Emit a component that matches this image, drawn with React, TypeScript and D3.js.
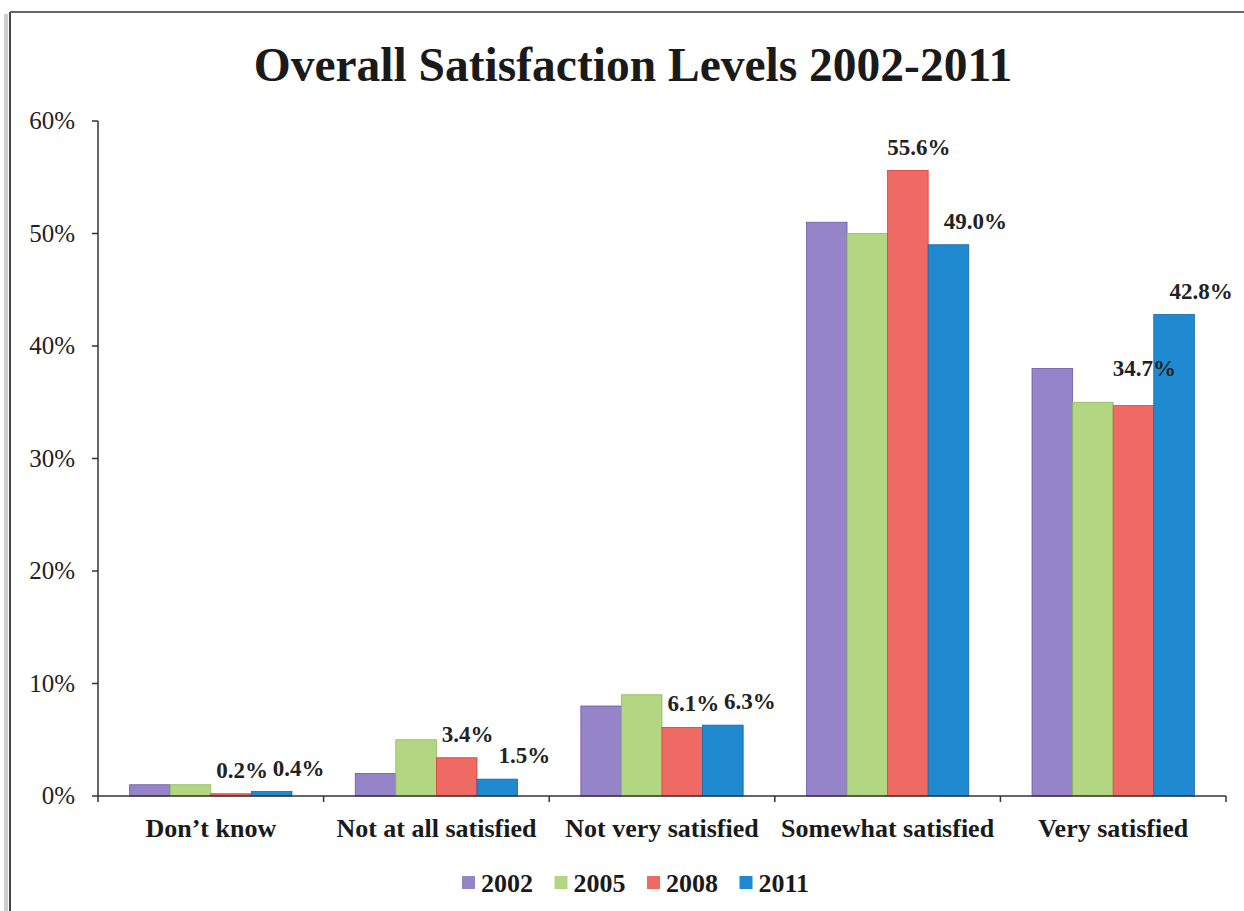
import React, { useEffect } from "react";
import * as d3 from "d3";

const categories = ["Don\u2019t know", "Not at all satisfied", "Not very satisfied", "Somewhat satisfied", "Very satisfied"];
const years = ["2002", "2005", "2008", "2011"];
const values2002 = [1.0, 2.0, 8.0, 51.0, 38.0];
const values2005 = [1.0, 5.0, 9.0, 50.0, 35.0];
const values2008 = [0.2, 3.4, 6.1, 55.6, 34.7];
const values2011 = [0.4, 1.5, 6.3, 49.0, 42.8];
const yTicks = [0, 10, 20, 30, 40, 50, 60];
const labeledYears = ["2008", "2011"];

const colors = ["#9584c8", "#b3d682", "#f06a64", "#1f8ad0"];
const strokes = ["#6a58a6", "#8fb85a", "#d8403c", "#1766a8"];
// label nudges (layout): horizontal offset per series, extra lift for specific labels
const labelDx: Record<string, number> = { "2008": 11, "2011": 27 };
const labelExtraLift: Record<string, number[]> = { "2008": [0, 0, 0, 0, 14], "2011": [0, 0, 0, 0, 0] };

const series = [values2002, values2005, values2008, values2011];

export default function App() {
  useEffect(() => {
    document.body.style.margin = "0";
    document.body.style.overflow = "hidden";
    document.documentElement.style.overflow = "hidden";
  }, []);
  const W = 1244, H = 911;
  const left = 98, right = 1226, top = 121, bottom = 796;
  const x0 = d3.scaleBand<string>().domain(categories).range([left, right]).padding(0);
  const x1 = d3.scaleBand<string>().domain(years).range([0, x0.bandwidth()]).paddingInner(0).paddingOuter(0.78);
  const y = d3.scaleLinear().domain([0, 60]).range([bottom, top]);
  const serif = "'Liberation Serif', 'Times New Roman', serif";

  return (
    <svg width={W} height={H} style={{ position: "absolute", left: 0, top: 0, background: "#fff", display: "block" }}>
      <rect x={0} y={0} width={W} height={H} fill="#fff" />
      {/* frame */}
      <line x1={6} y1={14} x2={6} y2={H} stroke="#cfcfcf" strokeWidth={4} />
      <line x1={10} y1={12} x2={10} y2={H} stroke="#444" strokeWidth={2} />
      <line x1={10} y1={12} x2={W} y2={12} stroke="#666" strokeWidth={2} />
      <text x={633} y={81} textAnchor="middle" fontFamily={serif} fontWeight="bold" fontSize={47.5} fill="#1a1a1a">
        Overall Satisfaction Levels 2002-2011
      </text>
      {/* y axis */}
      <line x1={left} y1={top} x2={left} y2={bottom + 6} stroke="#333" strokeWidth={1.5} />
      {yTicks.map((t) => (
        <g key={t}>
          <line x1={left - 6} x2={left} y1={y(t)} y2={y(t)} stroke="#333" strokeWidth={1.5} />
          <text x={75} y={y(t) + 8} textAnchor="end" fontFamily={serif} fontSize={25} fill="#222">
            {t}%
          </text>
        </g>
      ))}
      {/* bars */}
      {categories.map((c, ci) => (
        <g key={c} transform={`translate(${x0(c)},0)`}>
          {years.map((yr, si) => {
            const v = series[si][ci];
            return (
              <rect
                key={yr}
                x={x1(yr)}
                y={y(v)}
                width={x1.bandwidth()}
                height={bottom - y(v)}
                fill={colors[si]}
                stroke={strokes[si]}
                strokeWidth={0.8}
              />
            );
          })}
          {years.map((yr, si) => {
            if (!labeledYears.includes(yr)) return null;
            const v = series[si][ci];
            const cx = (x1(yr) as number) + x1.bandwidth() / 2 + labelDx[yr];
            return (
              <text
                key={"l" + yr}
                x={cx}
                y={y(v) - 16 - labelExtraLift[yr][ci]}
                textAnchor="middle"
                fontFamily={serif}
                fontWeight="bold"
                fontSize={23}
                fill="#222"
              >
                {v.toFixed(1)}%
              </text>
            );
          })}
        </g>
      ))}
      {/* x axis */}
      <line x1={left} y1={bottom} x2={right} y2={bottom} stroke="#333" strokeWidth={1.5} />
      {categories.map((c) => (
        <line key={"t" + c} x1={(x0(c) as number) + x0.bandwidth()} x2={(x0(c) as number) + x0.bandwidth()} y1={bottom} y2={bottom + 6} stroke="#333" strokeWidth={1.5} />
      ))}
      {categories.map((c) => (
        <text key={"c" + c} x={(x0(c) as number) + x0.bandwidth() / 2} y={837} textAnchor="middle" fontFamily={serif} fontWeight="bold" fontSize={26} fill="#1a1a1a">
          {c}
        </text>
      ))}
      {/* legend */}
      {years.map((yr, i) => {
        const lx = 462 + i * 92.5;
        return (
          <g key={"lg" + yr}>
            <rect x={lx} y={876} width={13} height={13} fill={colors[i]} />
            <text x={lx + 19} y={892} fontFamily={serif} fontWeight="bold" fontSize={26} fill="#1a1a1a">
              {yr}
            </text>
          </g>
        );
      })}
    </svg>
  );
}
